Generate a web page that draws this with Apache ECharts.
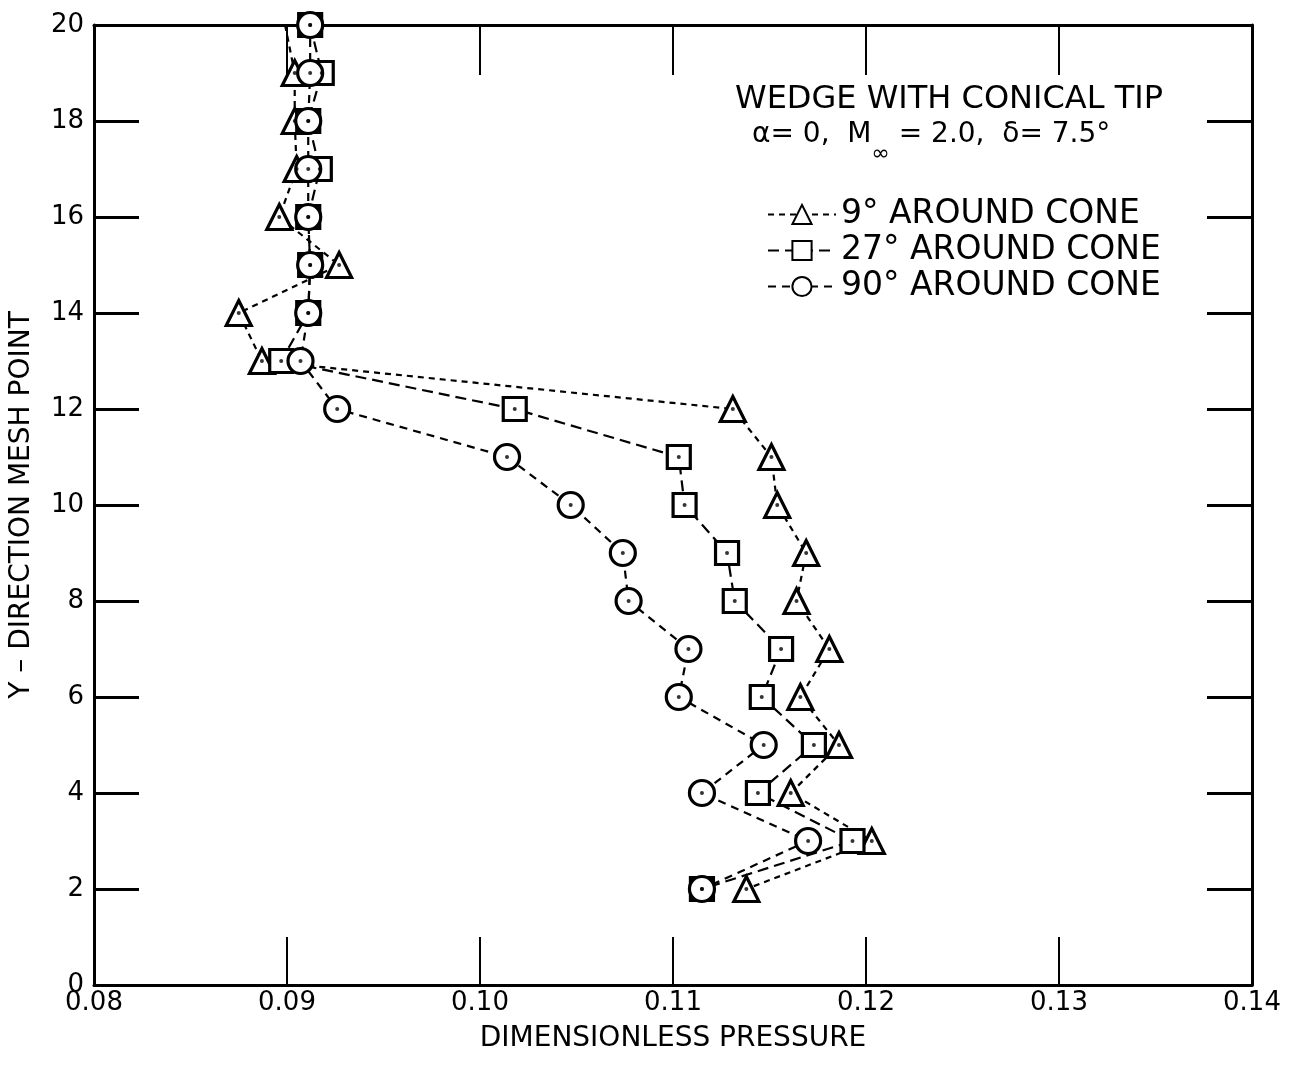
<!DOCTYPE html>
<html>
<head>
<meta charset="utf-8">
<script src="https://cdn.jsdelivr.net/npm/echarts@6/dist/echarts.min.js"></script>
<style>
  html, body { margin: 0; padding: 0; background: #fff; }
  #chart { width: 1293px; height: 1067px; }
</style>
</head>
<body>
<div id="chart"></div>
<script>
// mesh point (y) for every row, top to bottom
const meshPoints = [20, 19, 18, 17, 16, 15, 14, 13, 12, 11, 10, 9, 8, 7, 6, 5, 4, 3, 2];
// dimensionless pressure
const cone9 = [0.0899, 0.0904, 0.0904, 0.0905, 0.0896, 0.0927, 0.0875, 0.0887, 0.1131, 0.1151,
  0.1154, 0.1169, 0.1164, 0.1181, 0.1166, 0.1186, 0.1161, 0.1203, 0.1138];
const cone27 = [0.0912, 0.0918, 0.0911, 0.0917, 0.0911, 0.0912, 0.0911, 0.0897, 0.1018, 0.1103,
  0.1106, 0.1128, 0.1132, 0.1156, 0.1146, 0.1173, 0.1144, 0.1193, 0.1115];
const cone90 = [0.0912, 0.0912, 0.0911, 0.0911, 0.0911, 0.0912, 0.0911, 0.0907, 0.0926, 0.1014,
  0.1047, 0.1074, 0.1077, 0.1108, 0.1103, 0.1147, 0.1115, 0.1170, 0.1115];
// the 9 deg curve runs off the top without a marker
const hiddenMarks9 = [20];

const xTicks = [0.08, 0.09, 0.10, 0.11, 0.12, 0.13, 0.14];
const yTicks = [0, 2, 4, 6, 8, 10, 12, 14, 16, 18, 20];

const seriesNames = ['9° AROUND CONE', '27° AROUND CONE', '90° AROUND CONE'];

const FONT = 'DejaVu Sans';
const chart = echarts.init(document.getElementById('chart'));

const toPairs = (vals, hidden) => vals.map((v, i) => {
  const y = meshPoints[i];
  if (hidden && hidden.includes(y)) return { value: [v, y], symbol: 'none' };
  return [v, y];
});

const lineSeries = (name, vals, symbol, size, dash, hidden) => ({
  name,
  type: 'line',
  data: toPairs(vals, hidden),
  symbol,
  symbolSize: size,
  showAllSymbol: true,
  clip: false,
  lineStyle: { color: '#000', width: 2.2, type: dash },
  itemStyle: { color: '#fff', borderColor: '#000', borderWidth: 3.2 },
  emphasis: { disabled: true },
  z: 3
});

const dots = [];
[cone9, cone27, cone90].forEach((arr, k) => {
  arr.forEach((v, i) => {
    if (k === 0 && hiddenMarks9.includes(meshPoints[i])) return;
    dots.push([v, meshPoints[i]]);
  });
});

const axisText = { color: '#000', fontFamily: FONT, fontSize: 26 };
const frameLine = { onZero: false, lineStyle: { color: '#000', width: 3 } };

chart.setOption({
  animation: false,
  grid: { left: 91, right: 41, top: 25, bottom: 82 },
  legend: {
    data: seriesNames,
    orient: 'vertical',
    left: 762,
    top: 193,
    itemWidth: 68,
    itemHeight: 24,
    itemGap: 3,
    textStyle: { color: '#000', fontFamily: FONT, fontSize: 33 }
  },
  xAxis: [{
    type: 'value',
    min: xTicks[0],
    max: xTicks[xTicks.length - 1],
    interval: 0.01,
    position: 'bottom',
    name: 'DIMENSIONLESS PRESSURE',
    nameLocation: 'middle',
    nameGap: 40,
    nameTextStyle: { color: '#000', fontFamily: FONT, fontSize: 28 },
    axisLine: frameLine,
    axisTick: { inside: true, length: 48, lineStyle: { color: '#000', width: 2 } },
    axisLabel: Object.assign({ margin: 5, formatter: v => v.toFixed(2) }, axisText),
    splitLine: { show: false }
  }, {
    type: 'value',
    min: xTicks[0],
    max: xTicks[xTicks.length - 1],
    interval: 0.01,
    position: 'top',
    axisLine: frameLine,
    axisTick: { inside: true, length: 50, lineStyle: { color: '#000', width: 2 } },
    axisLabel: { show: false },
    splitLine: { show: false }
  }],
  yAxis: [{
    type: 'value',
    min: yTicks[0],
    max: yTicks[yTicks.length - 1],
    interval: 2,
    position: 'left',
    name: 'Y – DIRECTION MESH POINT',
    nameLocation: 'middle',
    nameGap: 58,
    nameTextStyle: { color: '#000', fontFamily: FONT, fontSize: 28 },
    axisLine: frameLine,
    axisTick: { inside: true, length: 45, lineStyle: { color: '#000', width: 3 } },
    axisLabel: Object.assign({ margin: 10 }, axisText),
    splitLine: { show: false }
  }, {
    type: 'value',
    min: yTicks[0],
    max: yTicks[yTicks.length - 1],
    interval: 2,
    position: 'right',
    axisLine: frameLine,
    axisTick: { inside: true, length: 45, lineStyle: { color: '#000', width: 3 } },
    axisLabel: { show: false },
    splitLine: { show: false }
  }],
  graphic: [{
    type: 'text',
    left: 735,
    top: 84,
    style: { text: 'WEDGE WITH CONICAL TIP', fill: '#000', font: '32px "DejaVu Sans"' }
  }, {
    type: 'text',
    left: 752,
    top: 121,
    style: {
      text: '{a|α= 0,  M}{s|∞}{a| = 2.0,  δ= 7.5°}',
      rich: {
        a: { fontFamily: FONT, fontSize: 28, color: '#000', lineHeight: 44, verticalAlign: 'top' },
        s: { fontFamily: FONT, fontSize: 22, color: '#000', lineHeight: 44, verticalAlign: 'bottom' }
      }
    }
  }],
  series: [
    lineSeries(seriesNames[0], cone9, 'triangle', 25, [6, 5], hiddenMarks9),
    lineSeries(seriesNames[1], cone27, 'rect', 23, [11, 6]),
    lineSeries(seriesNames[2], cone90, 'circle', 25, [8, 6]),
    {
      type: 'scatter',
      data: dots,
      symbol: 'circle',
      symbolSize: 4,
      itemStyle: { color: '#000' },
      silent: true,
      z: 5
    }
  ]
});
</script>
</body>
</html>
